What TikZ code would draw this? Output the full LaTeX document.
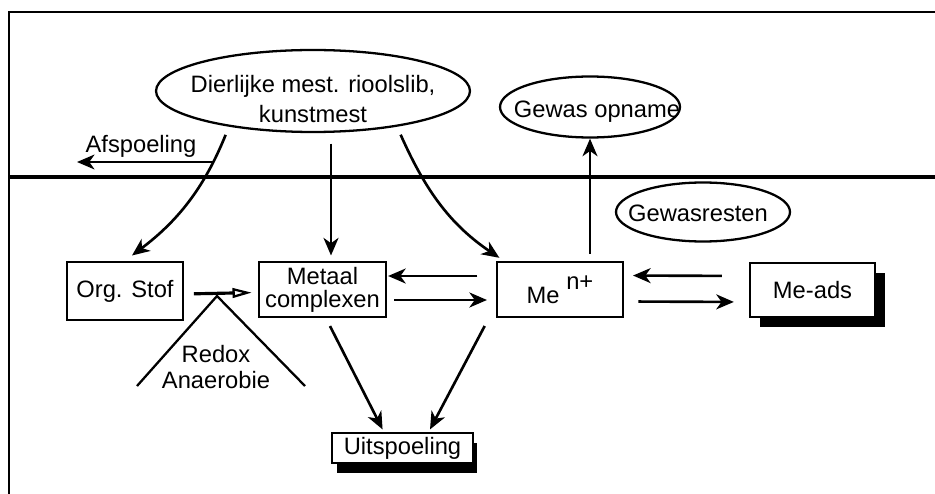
\documentclass[tikz,border=0pt]{standalone}
\usepackage{fontspec}
\setmainfont{Liberation Sans}
\usetikzlibrary{arrows.meta}
\usetikzlibrary{shapes.geometric}
\usetikzlibrary{shadows}
\tikzset{
    tekst/.style = {font=\fontsize{13.5}{17}\selectfont,inner sep=0},
    vak/.style = {tekst,draw,line width=1.4pt,rectangle,fill=white,minimum height=1.1cm},
    schaduwvak/.style 2 args = {vak,drop shadow={shadow xshift=#1,shadow yshift=#2,fill=black,opacity=1}},
    ovaal/.style = {draw,line width=1.3pt,ellipse,inner sep=0}
}
\tikzset{
    flux/.style = {line width=1.5pt,-{Stealth[length=10pt,width=8.5pt,inset=3pt]}},
    redox/.style = {line width=1.8pt,-{Triangle[open,length=11pt,width=5.5pt,line width=1.3pt]}}
}
\begin{document}
\begin{tikzpicture}[x=0.02cm,y=-0.02cm]
        \useasboundingbox (0,0) rectangle (935,493);
        % Frame and soil surface
        \begin{scope}
            \clip (0,0) rectangle (935,493);
            \draw[line width=1.6pt] (9,520) -- (9,12) -- (960,12);
            \draw[line width=2pt] (9,177) -- (960,177);
        \end{scope}
        % Sources
        \node[ovaal,minimum width=6.28cm,minimum height=1.64cm] (bron) at (313,91) {};
        \node[tekst,align=center] (brontekst) at (313,99) {Dierlijke mest. rioolslib,\\kunstmest};
        \node[ovaal,minimum width=3.6cm,minimum height=1.22cm] (opname) at (590,107) {};
        \node[tekst,anchor=base] (opnametekst) at (597,118) {Gewas opname};
        \node[ovaal,minimum width=3.48cm,minimum height=1.18cm] (resten) at (703,212) {};
        \node[tekst,anchor=base] (restentekst) at (698,221) {Gewasresten};
        \node[tekst,anchor=base] (afsp) at (141,153) {Afspoeling};
        \coordinate (afspA) at (213,162);
        \coordinate (afspB) at (77,162);
        % Pools
        \node[vak,minimum width=2.32cm,minimum height=1.16cm] (org) at (125,291) {Org. Stof};
        \node[vak,minimum width=2.54cm,align=center] (metaal) at (322.5,289.5) {Metaal\\[-4pt]complexen};
        \node[vak,minimum width=2.52cm] (me) at (560,289.5) {Me \raisebox{8pt}{n+}};
        \node[schaduwvak={0.2cm}{-0.2cm},minimum width=2.5cm,minimum height=1.08cm] (meads) at (812.5,290) {Me-ads};
        \node[schaduwvak={0.09cm}{-0.19cm},minimum width=2.82cm,minimum height=0.6cm] (uit) at (402.5,448) {Uitspoeling};
        % Redox
        \coordinate (dakL) at (137,386);
        \coordinate (dak) at (217,296);
        \coordinate (dakR) at (305,386);
        \draw[line width=1.3pt] (dakL) -- (dak) -- (dakR);
        \node[tekst,align=center] (redoxtekst) at (216,367) {Redox\\[-2pt]Anaerobie};
        \draw[redox,shorten <=5.5pt,shorten >=3.4pt] ([yshift=-0.06cm]org.east) -- ([yshift=-0.06cm]metaal.west);
        % Input
        \draw[flux,shorten <=5pt,shorten >=5pt] (bron.203) to[out=248,in=37] (org.north);
        \draw[flux,shorten <=6pt,shorten >=3pt] ([xshift=0.17cm]metaal.north |- bron.south) -- ([xshift=0.17cm]metaal.north);
        \draw[flux,shorten <=5pt,shorten >=3pt] (bron.337) to[out=-66,in=146] ([xshift=0.16cm]me.north west);
        \draw[flux,line width=1.1pt] (afspA) -- (afspB);
        % Exchange
        \draw[flux,shorten <=10.5pt,shorten >=0.5pt] ([yshift=0.27cm]me.west) -- ([yshift=0.27cm]metaal.east);
        \draw[flux,shorten <=4pt,shorten >=5pt] ([yshift=-0.21cm]metaal.east) -- ([yshift=-0.21cm]me.west);
        \draw[flux,shorten <=15.3pt,shorten >=5pt] ([yshift=0.28cm]meads.west) -- ([yshift=0.28cm]me.east);
        \draw[flux,shorten <=8pt,shorten >=8.5pt] ([yshift=-0.24cm]me.east) -- ([yshift=-0.24cm]meads.west);
        % Uptake and leaching
        \draw[flux,shorten <=4pt] (opname.south |- me.north) -- (opname.south);
        \draw[flux,shorten <=5pt,shorten >=1.5pt] ([xshift=0.07cm]metaal.south) -- ([xshift=1.06cm]uit.north west);
        \draw[flux,shorten <=5pt,shorten >=1.5pt] ([xshift=-0.14cm]me.south west) -- ([xshift=1.96cm]uit.north west);
\end{tikzpicture}
\end{document}
